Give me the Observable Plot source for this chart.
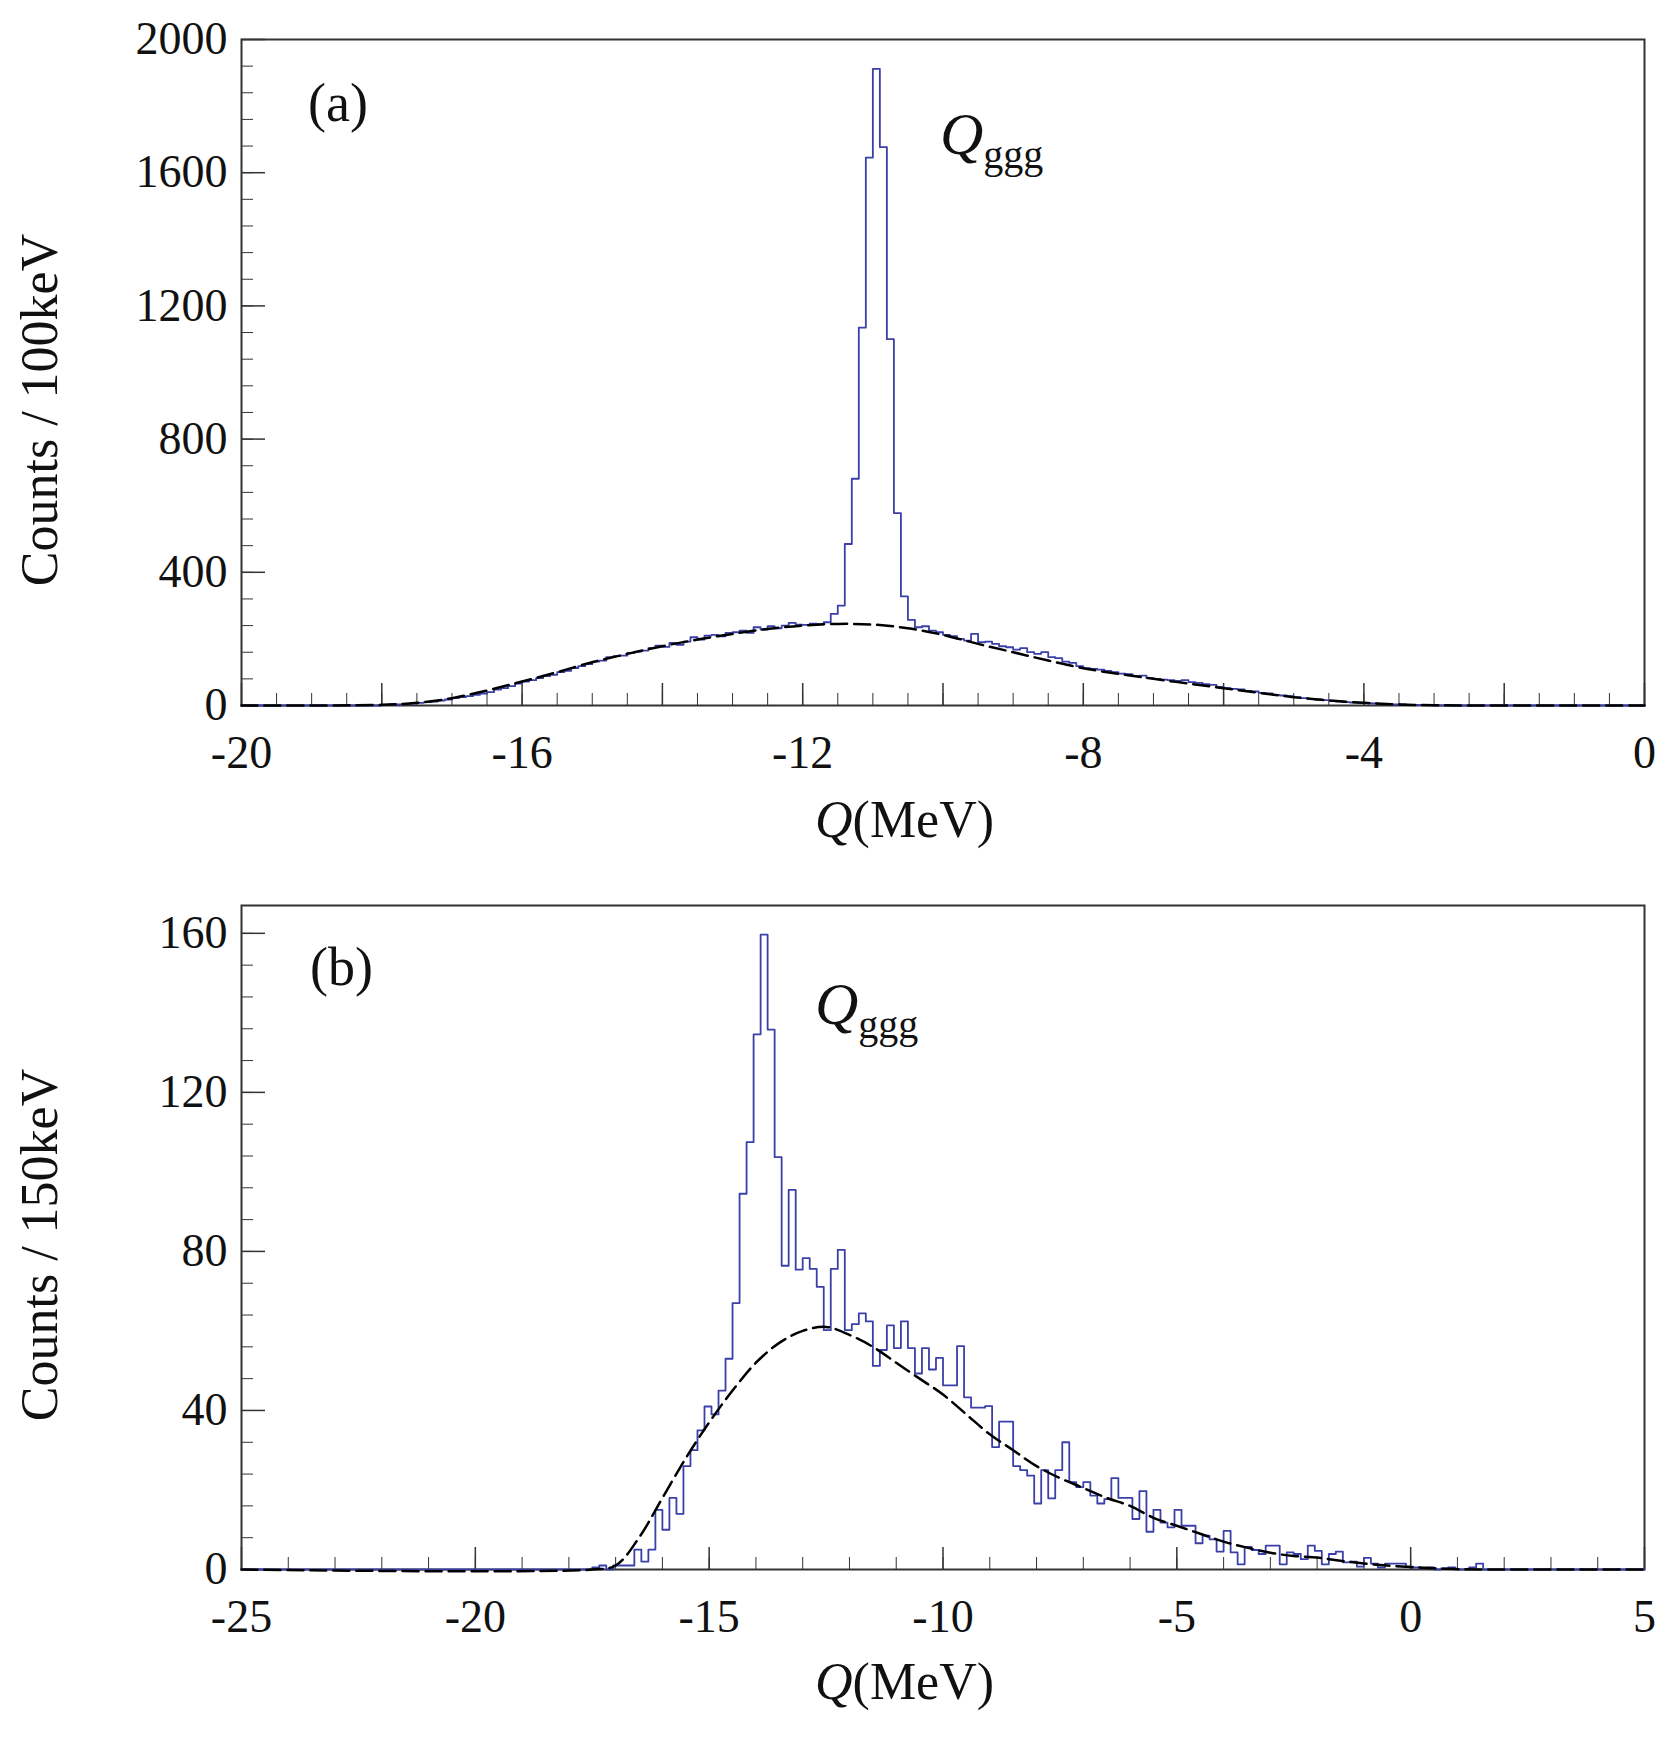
<!DOCTYPE html>
<html><head><meta charset="utf-8">
<script src="https://cdn.jsdelivr.net/npm/d3@7"></script>
<script src="https://cdn.jsdelivr.net/npm/@observablehq/plot@0.6"></script>
<style>
body{margin:0;background:#fff;}
#c{width:1674px;position:relative;}
svg{display:block;font-family:"Liberation Serif","DejaVu Serif",serif;}
</style></head><body><div id="c"></div>
<script>
// Panel (a): 100 keV bins starting at -18 MeV
const aStart = -18.0, aStep = 0.1;
const aCounts = [
 2,3,3,5,6,8,10,12,15,18,
 22,25,28,32,36,40,48,52,58,66,
 72,76,82,88,92,100,104,112,118,124,
 132,135,145,148,150,158,162,165,172,180,
 176,188,182,192,205,198,210,212,208,218,
 220,225,218,235,228,238,232,240,248,243,
 242,246,244,250,275,300,485,681,1135,1645,
 1912,1677,1100,578,328,257,235,238,225,220,
 212,208,200,195,215,190,192,185,178,175,
 168,172,160,155,160,145,142,132,128,118,
 112,110,108,104,100,96,94,88,90,82,
 80,78,76,74,76,70,68,64,62,56,
 52,50,48,44,42,38,36,32,30,28,
 25,22,20,18,16,14,12,10,9,8,
 8,6,5,4,3,3,2,2,1,1
];
const aFitQ = [-20,-18,-17.5,-17,-16.5,-16,-15.5,-15,-14.5,-14,-13.5,-13,-12.5,-12,-11.5,-11,-10.5,-10,-9.5,-9,-8.5,-8,-7.5,-7,-6.5,-6,-5.5,-5,-4.5,-4,-3.5,-3,-2.5,0];
const aFitV = [0,2,8,22,45,72,100,130,155,178,198,215,230,240,245,243,232,212,185,160,135,112,95,80,66,52,38,25,15,8,3,1,0,0];

// Panel (b): 150 keV bins starting at -17.65 MeV
const bStart = -17.65, bStep = 0.15;
const bCounts = [
 0,0.5,1,0,1,1,1,5,2,5,15,10,18,14,26,30,
 35,41,39,45,53,67,94.5,107.5,134.6,159.7,135.8,103.7,76.4,95.5,75.4,78.3,75.6,71.1,60.2,75.6,80.4,60.2,61.7,64.4,62.4,51.2,55.2,61.4,55.7,62.4,55.7,49.3,55.7,50.3,53.2,46.3,46.3,56.2,43.3,40.7,40.7,41.1,
 30.8,37.2,37.2,26,25,23.6,16.6,25,17.9,25,32,22,20.7,22,18.6,16.6,17.7,23,18,18,12.7,19.7,9.5,15,11.8,10.6,15,11,11,6.6,8.5,7.6,4.5,9.7,4.3,1.3,5.7,4.9,3.9,6,6,1.3,4.3,3.9,2.6,6,4.7,1.3,3.9,4.5,1.8,2,0.7,2.9,1.5,0.5,1.5,1.5,1.5,0.7,
 0.5,0.3,0.5,0,0.3,0.5,0,0,0.5,1.5,0
];
const bFitQ = [-25,-17.5,-17,-16.5,-16,-15.5,-15,-14.5,-14,-13.5,-13,-12.5,-12,-11.5,-11,-10.5,-10,-9.5,-9,-8.5,-8,-7.5,-7,-6.5,-6,-5.5,-5,-4.5,-4,-3.5,-3,-2.5,-2,-1.5,-1,-0.5,0,0.5,1,1.5,5];
const bFitV = [0,0,1,8,18,28,37,45,52,57,60,61,59,56,52,48,44,39,34,30,26,23,20.5,18,16,13,11,9,7,5.5,4.2,3.4,3,2.2,1.5,1,0.6,0.3,0.1,0,0];

const aXLabels = [-20,-16,-12,-8,-4,0];
const aYLabels = [0,400,800,1200,1600,2000];
const bXLabels = [-25,-20,-15,-10,-5,0,5];
const bYLabels = [0,40,80,120,160];

function hist(start, step, counts, lo, hi){
  const pts=[{q:lo,v:0},{q:start,v:0}];
  counts.forEach((c,i)=>pts.push({q:start+i*step,v:c}));
  pts.push({q:start+counts.length*step,v:0});
  pts.push({q:hi,v:0});
  return pts;
}

function panel(o){
  const blue="#3b3fa8";
  const fmt=d=>String(d).replace("\u2212","-");
  const p = Plot.plot({
    width:1674, height:o.height,
    marginLeft:241, marginRight:30, marginTop:o.mt, marginBottom:o.mb,
    style:{fontFamily:"Liberation Serif, serif", fontSize:"46px", color:"#111", overflow:"visible"},
    x:{domain:o.xd, label:null}, y:{domain:o.yd, label:null},
    marks:[
      Plot.frame({stroke:"#333", strokeWidth:2}),
      Plot.axisX({ticks:o.xMinor, tickSize:-12, text:null, stroke:"#333", label:null}),
      Plot.axisX({ticks:o.xMajor, tickSize:-22, text:null, stroke:"#333", strokeWidth:1.5, label:null}),
      Plot.axisX({ticks:o.xl, tickSize:0, tickPadding:30, tickFormat:fmt, fontSize:46, fill:"#111", label:null}),
      Plot.axisY({ticks:o.yMinor, tickSize:-12, text:null, stroke:"#333", label:null}),
      Plot.axisY({ticks:o.yl, tickSize:-24, text:null, stroke:"#333", strokeWidth:1.5, label:null}),
      Plot.axisY({ticks:o.yl, tickSize:0, tickPadding:14, tickFormat:fmt, fontSize:46, fill:"#111", label:null}),
      Plot.line(o.h, {x:"q", y:"v", curve:"step-after", stroke:blue, strokeWidth:1.8}),
      Plot.line(o.fit, {x:"q", y:"v", curve:"catmull-rom", stroke:"#000", strokeWidth:2.5, strokeDasharray:"16,7"})
    ]
  });
  return p;
}

const c=document.getElementById("c");
function wrap(svg, extras){
  const d=document.createElement("div"); d.style.position="relative"; d.appendChild(svg);
  extras.forEach(([html,css])=>{const s=document.createElement("div"); s.innerHTML=html; s.style.cssText="position:absolute;font-family:'Liberation Serif',serif;color:#111;white-space:nowrap;"+css; d.appendChild(s);});
  c.appendChild(d);
}

const range=(a,b,s)=>d3.range(Math.round((b-a)/s)+1).map(i=>+(a+i*s).toFixed(3));

const pa = panel({height:870, mt:39, mb:165, xd:[-20,0], yd:[0,2000],
  xl:aXLabels, yl:aYLabels, xMajor:range(-20,0,2), xMinor:range(-20,0,0.5), yMinor:range(0,2000,80),
  h:hist(aStart,aStep,aCounts,-20,0), fit:aFitQ.map((q,i)=>({q,v:aFitV[i]}))});
wrap(pa,[
  ["(a)","left:308px;top:72px;font-size:54px;"],
  ["<i>Q</i><span style='font-size:40px;position:relative;top:14px'>ggg</span>","left:940px;top:100px;font-size:60px;"],
  ["<i>Q</i>(MeV)","left:815px;top:790px;font-size:52px;"],
  ["Counts / 100keV","left:39px;top:410px;font-size:52px;transform:translate(-50%,-50%) rotate(-90deg);"]
]);
const pb = panel({height:869, mt:35, mb:170, xd:[-25,5], yd:[0,167],
  xl:bXLabels, yl:bYLabels, xMajor:range(-25,5,5), xMinor:range(-25,5,1), yMinor:range(0,160,8),
  h:hist(bStart,bStep,bCounts,-25,5), fit:bFitQ.map((q,i)=>({q,v:bFitV[i]}))});
wrap(pb,[
  ["(b)","left:310px;top:66px;font-size:54px;"],
  ["<i>Q</i><span style='font-size:40px;position:relative;top:14px'>ggg</span>","left:815px;top:100px;font-size:60px;"],
  ["<i>Q</i>(MeV)","left:815px;top:782px;font-size:52px;"],
  ["Counts / 150keV","left:39px;top:375px;font-size:52px;transform:translate(-50%,-50%) rotate(-90deg);"]
]);
</script></body></html>
